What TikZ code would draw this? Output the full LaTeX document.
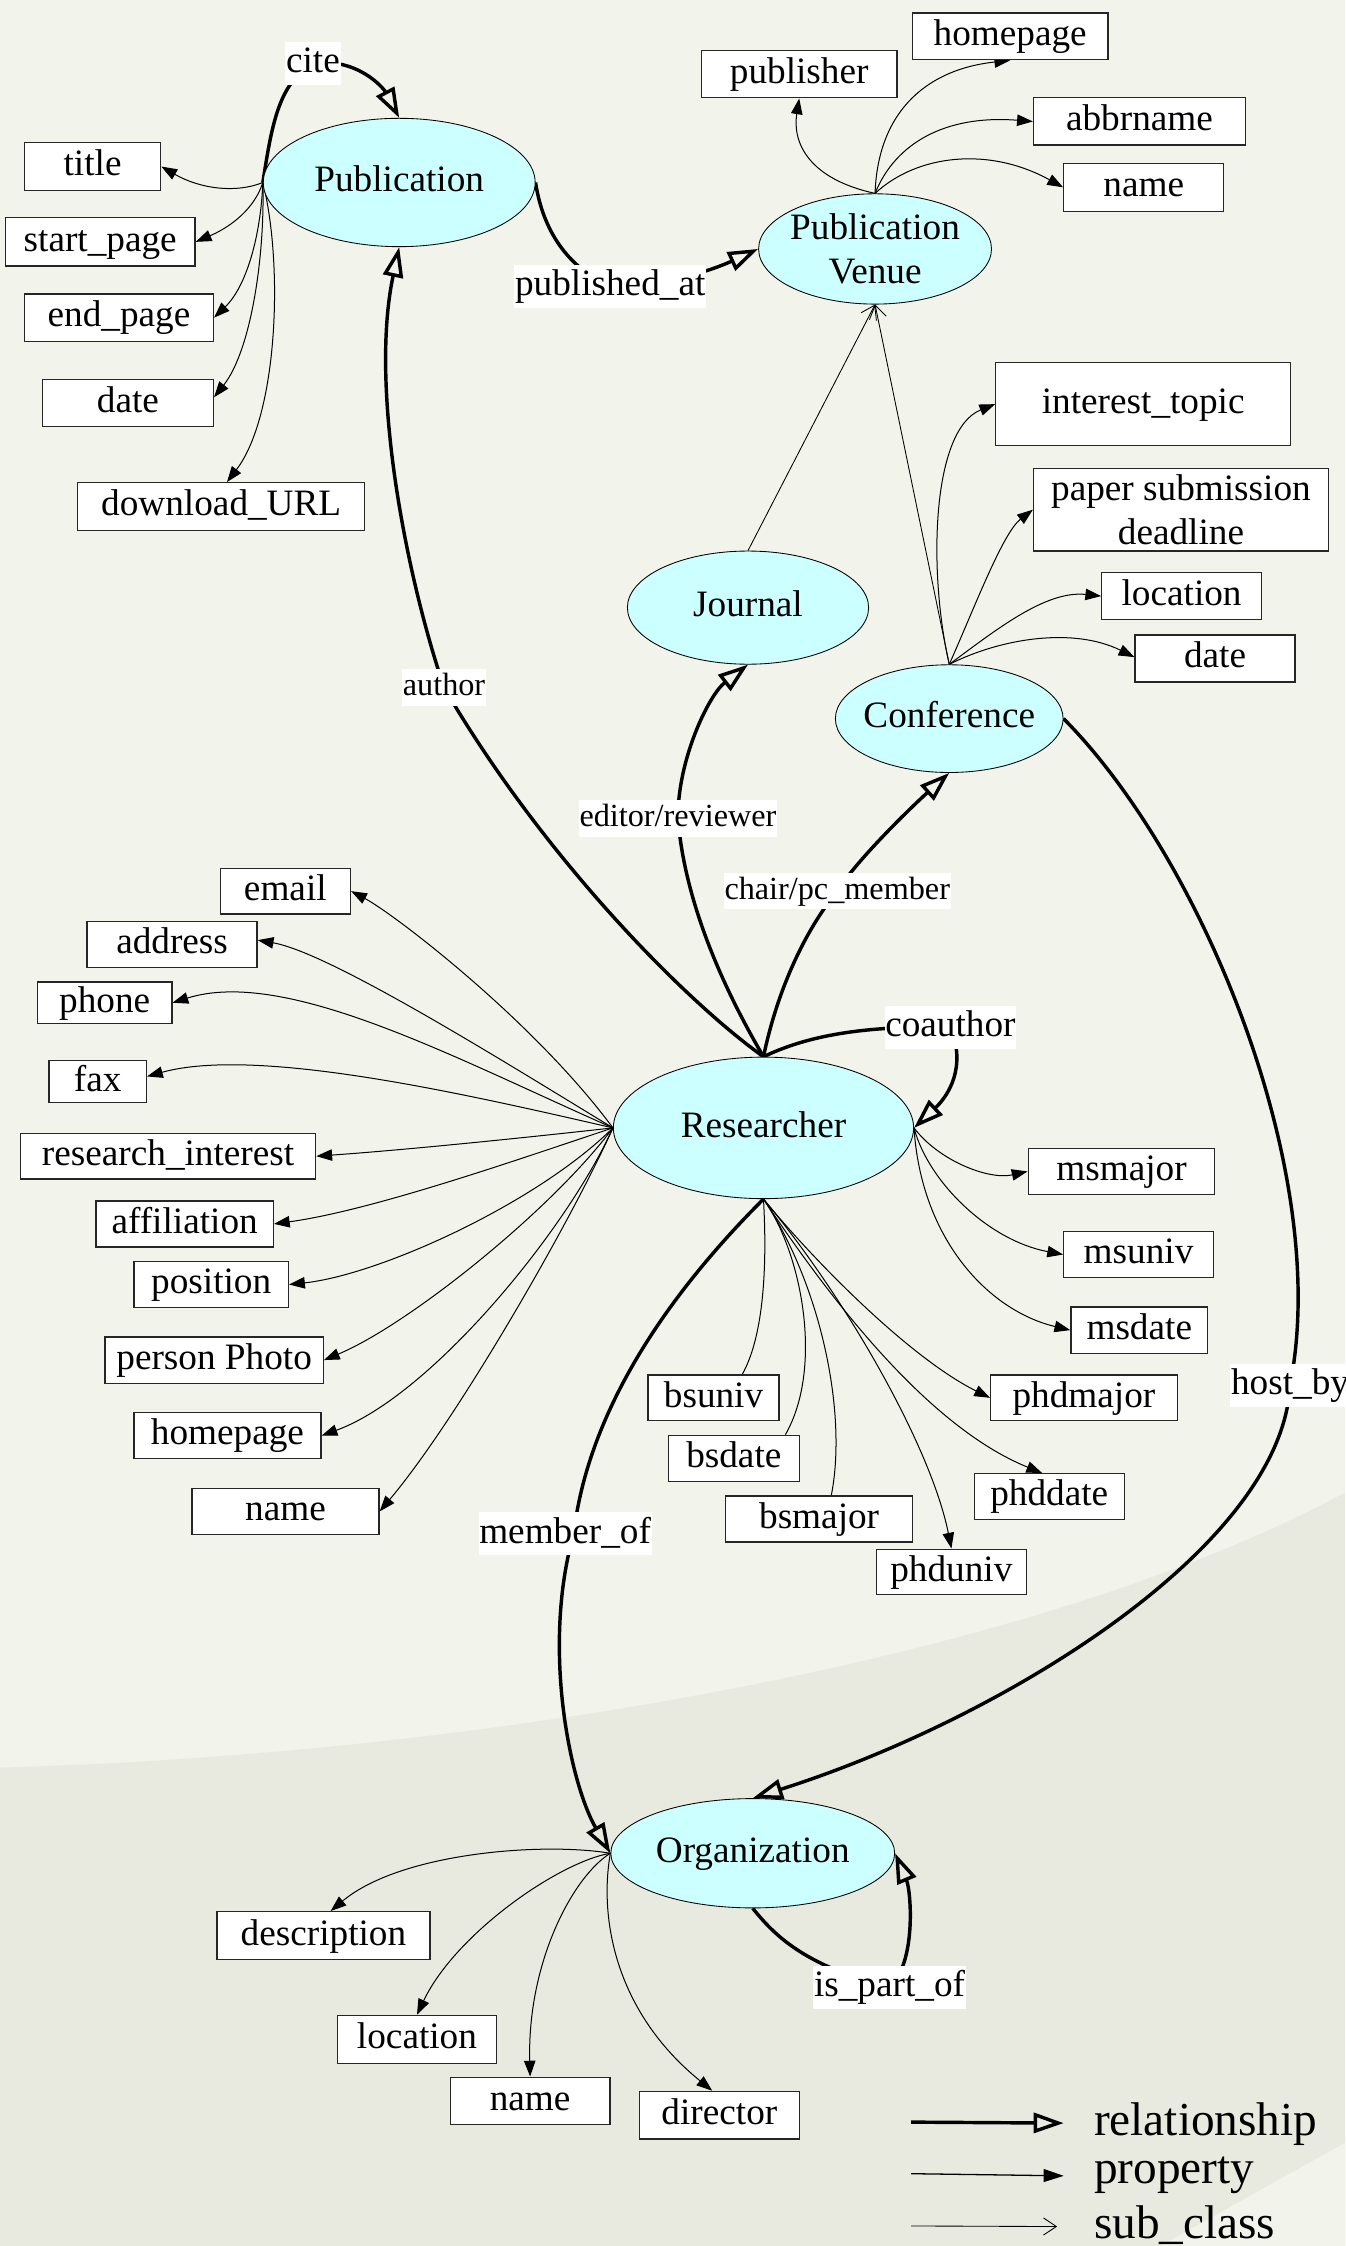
\documentclass[tikz,border=0pt]{standalone}
\usepackage{fontspec}
\setmainfont{Liberation Serif}
\usetikzlibrary{shapes.geometric,arrows.meta}
\pgfdeclarelayer{bglayer}
\pgfdeclarelayer{edgelayer}
\pgfsetlayers{bglayer,edgelayer,main}
\definecolor{bglight}{RGB}{242,243,235}
\definecolor{bgdark}{RGB}{233,234,223}
\definecolor{clsfill}{RGB}{204,255,255}
\tikzset{
  clsbase/.style={ellipse, draw=black, line width=0.6pt, fill=clsfill, inner xsep=-20pt, inner ysep=-14pt,
    font=\fontsize{26}{31}\selectfont, align=center},
  clsnode/.style={clsbase, text height=18.5pt, text depth=5.5pt},
  propbase/.style={rectangle, draw=black!85, line width=0.9pt, fill=white, inner sep=0pt,
    font=\fontsize{26}{31}\selectfont, align=center},
  propbox/.style={propbase, text height=18.5pt, text depth=5.5pt},
  elab/.style={rectangle, fill=white, inner xsep=0.5pt, inner ysep=3pt, font=\fontsize{26}{31}\selectfont,
    text height=18.5pt, text depth=5.5pt},
  slab/.style={rectangle, fill=white, inner xsep=0.5pt, inner ysep=2.5pt, font=\fontsize{22.5}{27}\selectfont,
    text height=16pt, text depth=4.6pt},
  legtext/.style={inner sep=0pt, font=\fontsize{33}{38}\selectfont},
  relarrow/.style={line width=2.4pt, -{Triangle[open, length=21pt, width=14pt]}},
  propedge/.style={line width=0.7pt, -{Triangle[length=11pt, width=8pt]}},
  plainedge/.style={line width=0.7pt},
  subcls/.style={line width=0.6pt, -{Straight Barb[length=9pt, width=12pt]}},
}
\begin{document}
\begin{tikzpicture}[x=1pt,y=-1pt]
\useasboundingbox (0,0) rectangle (939,1568);
\begin{pgfonlayer}{bglayer}
  \fill[bglight] (0,0) rectangle (939,1568);
  \fill[bgdark] (0,1234) .. controls (330,1225) and (720,1160) .. (939,1042) -- (939,1568) -- (0,1568) -- cycle;
  \fill[bglight] (939,1496) -- (810,1568) -- (939,1568) -- cycle;
\end{pgfonlayer}

% classes
\node[clsnode, minimum width=189.8pt, minimum height=89.6pt] (pub) at (278.7,127.4) {Publication};
\node[clsbase, minimum width=162.6pt, minimum height=77pt] (pv) at (610.9,173.8) {Publication\\Venue};
\node[clsnode, minimum width=168.4pt, minimum height=79pt] (jour) at (522.2,424.2) {Journal};
\node[clsnode, minimum width=159pt, minimum height=75.2pt] (conf) at (662.7,501.7) {Conference};
\node[clsnode, minimum width=209.6pt, minimum height=98.8pt] (res) at (533,787.4) {Researcher};
\node[clsnode, minimum width=198.2pt, minimum height=76.3pt] (org) at (525.5,1293.8) {Organization};

% publication properties
\node[propbox, minimum width=95.1pt, minimum height=33.2pt] (title) at (64.65,116.3) {title};
\node[propbox, minimum width=132.5pt, minimum height=33.7pt] (sp) at (69.95,168.85) {start\_page};
\node[propbox, minimum width=131.9pt, minimum height=33.1pt] (ep) at (83.05,221.75) {end\_page};
\node[propbox, minimum width=119.4pt, minimum height=33.1pt] (pdate) at (89.3,281.35) {date};
\node[propbox, minimum width=200.5pt, minimum height=33.2pt] (dl) at (154.45,353.6) {download\_URL};

% venue properties
\node[propbox, minimum width=136.5pt, minimum height=33pt] (publisher) at (557.95,51.8) {publisher};
\node[propbox, minimum width=136.5pt, minimum height=32.7pt] (pvhome) at (705.25,25.35) {homepage};
\node[propbox, minimum width=148pt, minimum height=33pt] (abbr) at (795.5,84.8) {abbrname};
\node[propbox, minimum width=111.7pt, minimum height=33.5pt] (pvname) at (798.45,130.75) {name};

% conference properties
\node[propbox, minimum width=205.8pt, minimum height=57.7pt] (interest) at (798.1,282.15) {interest\_topic};
\node[propbase, minimum width=205.9pt, minimum height=57.7pt] (paper) at (824.45,355.85) {paper submission\\deadline};
\node[propbox, minimum width=111.4pt, minimum height=32.7pt] (confloc) at (824.9,416.15) {location};
\node[propbox, minimum width=111.7pt, minimum height=32.7pt] (confdate) at (848.25,459.75) {date};

% researcher properties (left)
\node[propbox, minimum width=91pt, minimum height=31.7pt] (email) at (199.2,622.15) {email};
\node[propbox, minimum width=118.7pt, minimum height=31.7pt] (address) at (120.15,659.35) {address};
\node[propbox, minimum width=93.8pt, minimum height=29.1pt] (phone) at (73.1,700.05) {phone};
\node[propbox, minimum width=67.9pt, minimum height=29.2pt] (fax) at (68.25,755.2) {fax};
\node[propbox, minimum width=206.1pt, minimum height=31.7pt] (rint) at (117.35,807.15) {research\_interest};
\node[propbox, minimum width=123.8pt, minimum height=32.1pt] (affil) at (128.9,854.45) {affiliation};
\node[propbox, minimum width=107.9pt, minimum height=32.1pt] (position) at (147.45,896.75) {position};
\node[propbox, minimum width=152.4pt, minimum height=32.4pt] (photo) at (149.5,949.5) {person Photo};
\node[propbox, minimum width=130.6pt, minimum height=32pt] (rhome) at (158.8,1002.2) {homepage};
\node[propbox, minimum width=130.6pt, minimum height=32.1pt] (rname) at (199.3,1055.15) {name};

% researcher properties (right / bottom)
\node[propbox, minimum width=130.3pt, minimum height=31.8pt] (msmajor) at (782.95,817.8) {msmajor};
\node[propbox, minimum width=104.5pt, minimum height=31.8pt] (msuniv) at (794.85,875.8) {msuniv};
\node[propbox, minimum width=95.5pt, minimum height=32.2pt] (msdate) at (795.35,928.6) {msdate};
\node[propbox, minimum width=130.3pt, minimum height=31.7pt] (phdmajor) at (756.75,975.85) {phdmajor};
\node[propbox, minimum width=104.5pt, minimum height=31.8pt] (phddate) at (732.55,1044.7) {phddate};
\node[propbox, minimum width=104.4pt, minimum height=31.8pt] (phduniv) at (664.2,1097.4) {phduniv};
\node[propbox, minimum width=91.5pt, minimum height=31.7pt] (bsuniv) at (498.15,975.85) {bsuniv};
\node[propbox, minimum width=91.2pt, minimum height=32.1pt] (bsdate) at (512.3,1018.05) {bsdate};
\node[propbox, minimum width=130.7pt, minimum height=32.1pt] (bsmajor) at (571.85,1060.45) {bsmajor};

% organization properties
\node[propbox, minimum width=148.6pt, minimum height=33.5pt] (desc) at (225.8,1351.35) {description};
\node[propbox, minimum width=111.4pt, minimum height=33.4pt] (orgloc) at (291.1,1423.7) {location};
\node[propbox, minimum width=111.4pt, minimum height=33.3pt] (orgname) at (370.1,1466.75) {name};
\node[propbox, minimum width=112pt, minimum height=33.3pt] (director) at (502.2,1476.65) {director};

% edge labels
\node[elab] (cite) at (218.5,44.25) {cite};
\node[elab] (pubat) at (426,199.7) {published\_at};
\node[slab] (author) at (310,480) {author};
\node[slab] (edrev) at (473.3,571.4) {editor/reviewer};
\node[slab] (chair) at (584.5,622) {chair/pc\_member};
\node[elab] (coauth) at (663.5,717) {coauthor};
\node[elab] (hostby) at (900.6,967) {host\_by};
\node[elab] (memberof) at (394.5,1070.75) {member\_of};
\node[elab] (ispartof) at (621,1387.4) {is\_part\_of};

% legend
\coordinate (lgAa) at (636,1481.5);
\coordinate (lgAb) at (742.6,1482.2);
\coordinate (lgBa) at (636,1517.5);
\coordinate (lgBb) at (742.6,1519);
\coordinate (lgCa) at (636,1554);
\coordinate (lgCb) at (738,1554.4);
\node[legtext, anchor=base west] (lgtA) at (763.6,1490.5) {relationship};
\node[legtext, anchor=base west] (lgtB) at (763.6,1524) {property};
\node[legtext, anchor=base west] (lgtC) at (763.6,1563) {sub\_class};

\begin{pgfonlayer}{edgelayer}
  % relationships
  \draw[relarrow] (pub.west) .. controls (190,85) and (195,58) .. (cite.center)
        .. controls (250,40) and (268,62) .. (pub.north);
  \draw[relarrow] (pub.east) .. controls (378,155) and (392,185) .. (pubat.center)
        .. controls (470,200) and (505,185) .. (pv.west);
  \draw[relarrow] (res.north) .. controls (480,700) and (380,600) .. (author.center)
        .. controls (283,400) and (258,270) .. (pub.south);
  \draw[relarrow] (res.north) .. controls (505,690) and (478,630) .. (edrev.center)
        .. controls (473,530) and (495,485) .. (jour.south);
  \draw[relarrow] (res.north) .. controls (543,690) and (562,650) .. (chair.center)
        .. controls (600,598) and (640,560) .. (conf.south);
  \draw[relarrow] (res.north) .. controls (560,725) and (595,716) .. (coauth.center)
        .. controls (675,745) and (662,765) .. (res.east);
  \draw[relarrow] (conf.east) .. controls (840,600) and (930,820) .. (hostby.center)
        .. controls (895,1080) and (700,1200) .. (org.north);
  \draw[relarrow] (res.south) .. controls (460,910) and (410,990) .. ([xshift=6pt]memberof.center)
        .. controls (378,1150) and (398,1245) .. (org.west);
  \draw[relarrow] (org.south) .. controls (540,1350) and (560,1372) .. (ispartof.center)
        .. controls (640,1370) and (636,1320) .. (org.east);
  % sub classes
  \draw[subcls] (jour.north) -- (pv.south);
  \draw[subcls] (conf.north) -- (pv.south);
  % publication properties
  \draw[propedge] (pub.west) .. controls (165,135) and (140,132) .. (title.east);
  \draw[propedge] (pub.west) .. controls (178,145) and (162,158) .. (sp.east);
  \draw[propedge] (pub.west) .. controls (182,165) and (172,200) .. (ep.east);
  \draw[propedge] (pub.west) .. controls (185,180) and (175,245) .. ([yshift=4pt]pdate.east);
  \draw[propedge] (pub.west) .. controls (198,185) and (194,290) .. ([xshift=4pt]dl.north);
  % venue properties
  \draw[propedge] (pv.north) .. controls (565,125) and (553,100) .. (publisher.south);
  \draw[propedge] (pv.north) .. controls (613,75) and (650,48) .. (pvhome.south);
  \draw[propedge] (pv.north) .. controls (625,100) and (660,80) .. (abbr.west);
  \draw[propedge] (pv.north) .. controls (640,108) and (690,102) .. (pvname.west);
  % conference properties
  \draw[propedge] (conf.north) .. controls (648,400) and (650,300) .. (interest.west);
  \draw[propedge] (conf.north) .. controls (680,425) and (700,372) .. (paper.west);
  \draw[propedge] (conf.north) .. controls (695,440) and (730,412) .. (confloc.west);
  \draw[propedge] (conf.north) .. controls (700,445) and (750,438) .. ([yshift=1pt]confdate.west);
  % researcher properties (left)
  \draw[propedge] (res.west) .. controls (372,712) and (275,638) .. (email.east);
  \draw[propedge] (res.west) .. controls (350,740) and (230,665) .. ([yshift=3pt]address.east);
  \draw[propedge] (res.west) .. controls (320,740) and (200,675) .. (phone.east);
  \draw[propedge] (res.west) .. controls (330,765) and (180,730) .. ([yshift=3.7pt]fax.east);
  \draw[propedge] (res.west) .. controls (360,795) and (280,803) .. (rint.east);
  \draw[propedge] (res.west) .. controls (360,810) and (260,845) .. (affil.east);
  \draw[propedge] (res.west) .. controls (375,840) and (265,890) .. (position.east);
  \draw[propedge] (res.west) .. controls (385,845) and (285,925) .. (photo.east);
  \draw[propedge] (res.west) .. controls (395,860) and (300,975) .. (rhome.east);
  \draw[propedge] (res.west) .. controls (400,850) and (320,990) .. (rname.east);
  % researcher properties (right / bottom)
  \draw[propedge] (res.east) .. controls (655,810) and (690,824) .. (msmajor.west);
  \draw[propedge] (res.east) .. controls (648,825) and (690,866) .. (msuniv.west);
  \draw[propedge] (res.east) .. controls (643,865) and (690,915) .. (msdate.west);
  \draw[propedge] (res.south) .. controls (568,880) and (635,948) .. (phdmajor.west);
  \draw[propedge] (res.south) .. controls (575,900) and (645,995) .. ([xshift=-5pt]phddate.north);
  \draw[propedge] (res.south) .. controls (590,905) and (650,1010) .. (phduniv.north);
  \draw[plainedge] (res.south) .. controls (536,890) and (532,935) .. ([xshift=20pt]bsuniv.north);
  \draw[plainedge] (res.south) .. controls (560,875) and (575,955) .. ([xshift=36pt]bsdate.north);
  \draw[plainedge] (res.south) .. controls (572,895) and (592,985) .. ([xshift=8.5pt]bsmajor.north);
  % organization properties
  \draw[propedge] (org.west) .. controls (380,1286) and (280,1293) .. ([xshift=5pt]desc.north);
  \draw[propedge] (org.west) .. controls (390,1300) and (318,1350) .. (orgloc.north);
  \draw[propedge] (org.west) .. controls (400,1310) and (368,1370) .. (orgname.north);
  \draw[propedge] (org.west) .. controls (418,1340) and (430,1405) .. ([xshift=-5pt]director.north);
  % legend
  \draw[relarrow] (lgAa) -- (lgAb);
  \draw[line width=0.9pt, -{Triangle[length=14pt, width=9pt]}] (lgBa) -- (lgBb);
  \draw[subcls] (lgCa) -- (lgCb);
\end{pgfonlayer}
\end{tikzpicture}
\end{document}
